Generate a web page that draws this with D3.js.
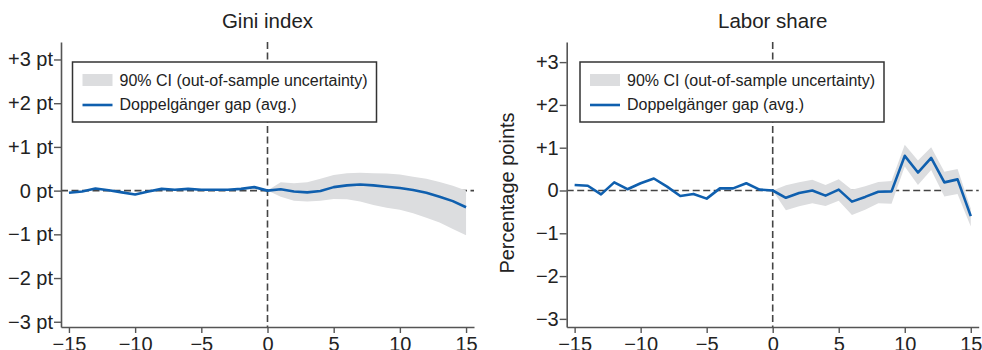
<!DOCTYPE html>
<html>
<head>
<meta charset="utf-8">
<script src="https://cdn.jsdelivr.net/npm/d3@7"></script>
<style>
  body { margin: 0; background: #fff; }
  svg text { font-family: "Liberation Sans", Arial, Helvetica, sans-serif; fill: #222; }
</style>
</head>
<body>
<div id="chart"></div>
<script>
// years relative to the event
const years = d3.range(-15, 16);
const postYears = d3.range(0, 16);

// Gini index: doppelganger gap and 90% CI (post period only)
const giniGap = [-0.05, -0.02, 0.05, 0.01, -0.04, -0.09, -0.02, 0.04, 0.02, 0.04, 0.02, 0.02, 0.02, 0.04, 0.08, 0,
                 0.03, -0.02, -0.04, -0.01, 0.08, 0.12, 0.14, 0.12, 0.09, 0.06, 0.015, -0.05, -0.14, -0.24, -0.38];
const giniLo = [0, -0.14, -0.23, -0.25, -0.23, -0.19, -0.2, -0.25, -0.33, -0.39, -0.44, -0.52, -0.62, -0.73, -0.88, -1.02];
const giniHi = [0, 0.19, 0.17, 0.19, 0.27, 0.36, 0.4, 0.41, 0.4, 0.39, 0.37, 0.32, 0.27, 0.2, 0.11, 0.0];

// Labor share
const laborGap = [0.13, 0.11, -0.09, 0.19, 0.03, 0.17, 0.28, 0.09, -0.13, -0.08, -0.19, 0.05, 0.05, 0.17, 0.02, 0,
                  -0.17, -0.06, 0, -0.12, 0.02, -0.26, -0.15, -0.03, -0.02, 0.81, 0.42, 0.76, 0.19, 0.26, -0.6];
const laborLo = [0, -0.46, -0.37, -0.3, -0.36, -0.24, -0.57, -0.45, -0.3, -0.31, 0.56, 0.13, 0.48, -0.14, -0.08, -0.84];
const laborHi = [0, 0.12, 0.19, 0.25, 0.13, 0.26, 0.02, 0.1, 0.2, 0.22, 1.07, 0.7, 1.01, 0.44, 0.5, -0.42];

const yTicks = [-3, -2, -1, 0, 1, 2, 3];
const giniTickLabels = ["\u22123 pt", "\u22122 pt", "\u22121 pt", "0 pt", "+1 pt", "+2 pt", "+3 pt"];
const laborTickLabels = ["\u22123", "\u22122", "\u22121", "0", "+1", "+2", "+3"];
const xTicks = [-15, -10, -5, 0, 5, 10, 15];
const xTickLabels = ["\u221215", "\u221210", "\u22125", "0", "5", "10", "15"];

const legendItems = ["90% CI (out-of-sample uncertainty)", "Doppelgänger gap (avg.)"];

const blue = "#0f5fae";
const bandGrey = "#dcdddf";
const axisGrey = "#555";

const svg = d3.select("#chart").append("svg")
    .attr("width", 982)
    .attr("height", 350);

function drawPanel(opts) {
    const x = d3.scaleLinear().domain([-15.6, 15.6]).range(opts.xRange);
    const y = d3.scaleLinear().domain(opts.yDomain).range([327, 42]);
    const g = svg.append("g");

    // title
    g.append("text")
        .attr("x", x(0))
        .attr("y", 28)
        .attr("text-anchor", "middle")
        .style("font-size", "20.5px")
        .text(opts.title);

    // reference dashed lines (drawn under the band)
    g.append("line")
        .attr("x1", x.range()[0]).attr("x2", x.range()[1])
        .attr("y1", y(0)).attr("y2", y(0))
        .attr("stroke", "#444").attr("stroke-width", 1.6)
        .attr("stroke-dasharray", "7,3.5");
    g.append("line")
        .attr("x1", x(0)).attr("x2", x(0))
        .attr("y1", 42).attr("y2", 327)
        .attr("stroke", "#444").attr("stroke-width", 1.6)
        .attr("stroke-dasharray", "7,3.5");

    // CI band
    const area = d3.area()
        .x((d, i) => x(postYears[i]))
        .y0((d, i) => y(opts.lo[i]))
        .y1((d, i) => y(opts.hi[i]));
    g.append("path")
        .datum(opts.lo)
        .attr("d", area)
        .attr("fill", bandGrey);

    // gap line
    const line = d3.line()
        .x((d, i) => x(years[i]))
        .y(d => y(d));
    g.append("path")
        .datum(opts.gap)
        .attr("d", line)
        .attr("fill", "none")
        .attr("stroke", blue)
        .attr("stroke-width", 2.6)
        .attr("stroke-linejoin", "round");

    // axes
    const yAxis = g.append("g")
        .attr("transform", `translate(${x.range()[0]},0)`)
        .call(d3.axisLeft(y).tickValues(yTicks)
            .tickFormat((d, i) => opts.yLabels[i])
            .tickSize(7).tickPadding(1).tickSizeOuter(0));
    const xAxis = g.append("g")
        .attr("transform", `translate(0,327)`)
        .call(d3.axisBottom(x).tickValues(xTicks)
            .tickFormat((d, i) => xTickLabels[i])
            .tickSize(6).tickPadding(4).tickSizeOuter(0));
    [yAxis, xAxis].forEach(a => {
        a.select(".domain").attr("stroke", axisGrey).attr("stroke-width", 1.6);
        a.selectAll(".tick line").attr("stroke", axisGrey).attr("stroke-width", 1.4);
        a.selectAll(".tick text").attr("fill", "#222").style("font-size", "20px")
            .style("font-family", "'Liberation Sans', Arial, sans-serif");
    });
    xAxis.selectAll(".tick text").attr("dy", "0.71em");

    // legend
    const lg = g.append("g").attr("transform", `translate(${opts.legendX},62)`);
    lg.append("rect")
        .attr("width", 304).attr("height", 60)
        .attr("fill", "#fff")
        .attr("stroke", "#333").attr("stroke-width", 1.5);
    lg.append("rect")
        .attr("x", 10).attr("y", 12)
        .attr("width", 30).attr("height", 12)
        .attr("fill", bandGrey);
    lg.append("line")
        .attr("x1", 10).attr("x2", 40)
        .attr("y1", 43).attr("y2", 43)
        .attr("stroke", blue).attr("stroke-width", 2.6);
    lg.selectAll(".legend-text")
        .data(legendItems)
        .enter()
        .append("text")
        .attr("class", "legend-text")
        .attr("x", 47)
        .attr("y", (d, i) => 23.5 + i * 24.5)
        .style("font-size", "16px")
        .text(d => d);

    if (opts.yTitle) {
        g.append("text")
            .attr("transform", `translate(514,193) rotate(-90)`)
            .attr("text-anchor", "middle")
            .style("font-size", "20px")
            .text(opts.yTitle);
    }
}

drawPanel({
    title: "Gini index",
    xRange: [61, 474],
    yDomain: [-3.12, 3.4],
    gap: giniGap, lo: giniLo, hi: giniHi,
    yLabels: giniTickLabels,
    legendX: 72.5
});

drawPanel({
    title: "Labor share",
    xRange: [566.7, 978.7],
    yDomain: [-3.19, 3.47],
    gap: laborGap, lo: laborLo, hi: laborHi,
    yLabels: laborTickLabels,
    legendX: 580,
    yTitle: "Percentage points"
});
</script>
</body>
</html>
